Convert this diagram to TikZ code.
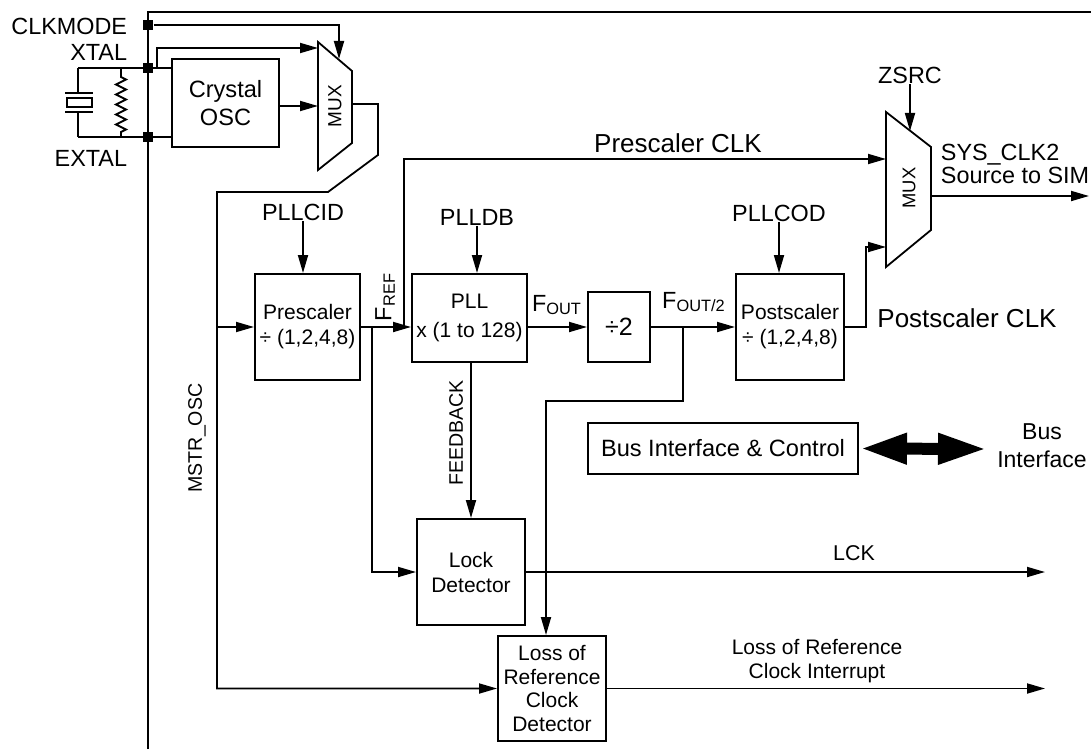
\documentclass[tikz,border=0pt]{standalone}
\usepackage{fontspec}
\setmainfont{Liberation Sans}
\usetikzlibrary{arrows.meta,positioning}
\tikzset{blk/.style={draw,line width=1pt,align=center,inner sep=1pt,font=\fontsize{10.5}{12.5}\selectfont}}
\tikzset{lbl/.style={inner sep=0pt,font=\fontsize{11.7}{13}\selectfont}}
\tikzset{sml/.style={inner sep=0pt,font=\fontsize{9.8}{12}\selectfont}}
\tikzset{big/.style={inner sep=0pt,font=\fontsize{13}{15}\selectfont}}
\tikzset{jdot/.style={rectangle,fill,minimum size=5pt,inner sep=0pt}}

\begin{document}
\begin{tikzpicture}[x=0.5pt,y=-0.5pt,line width=0.9pt,>={Triangle[length=9pt,width=5pt]}]
        \useasboundingbox (0,0) rectangle (1091,749);

        \node[blk,minimum width=53.5pt,minimum height=44pt,font=\fontsize{11.8}{14}\selectfont] (osc) at (225.5,103) {Crystal\\OSC};
        \node[blk,minimum width=52.5pt,minimum height=53pt] (pre) at (307.5,327) {Prescaler\\÷ (1,2,4,8)};
        \node[blk,minimum width=57.5pt,minimum height=44pt] (pll) at (469.5,318) {PLL\\[2pt]x (1 to 128)};
        \node[blk,minimum width=31pt,minimum height=35pt,font=\fontsize{12.5}{14}\selectfont] (div) at (619,327) {÷2};
        \node[blk,minimum width=54pt,minimum height=53pt] (post) at (790,327) {Postscaler\\÷ (1,2,4,8)};
        \node[blk,minimum width=54pt,minimum height=53pt] (lock) at (471,572) {Lock\\Detector};
        \node[blk,minimum width=54pt,minimum height=52.5pt,font=\fontsize{10.5}{11.8}\selectfont] (lor) at (552,688.5) {Loss of\\Reference\\Clock\\Detector};
        \node[blk,minimum width=135pt,minimum height=25.5pt,font=\fontsize{11.8}{14}\selectfont] (bus) at (723,448.5) {Bus Interface \& Control};

        \node[lbl,anchor=east] (clkmode) at (128,26) {CLKMODE};
        \node[lbl,anchor=east] (xtal) at (128,52) {XTAL};
        \node[lbl,anchor=east] (extal) at (128,158) {EXTAL};
        \node[lbl] (pllcid) at (303,212) {PLLCID};
        \node[lbl] (plldb) at (477,217) {PLLDB};
        \node[lbl] (pllcod) at (779,213) {PLLCOD};
        \node[lbl] (zsrc) at (910,75) {ZSRC};
        \node[lbl,anchor=west,align=left,font=\fontsize{11.7}{11.5}\selectfont] (sysclk) at (940,164) {SYS\_CLK2\\Source to SIM};
        \node[lbl,align=center,font=\fontsize{11.5}{14}\selectfont] (busif) at (1042,446) {Bus\\Interface};
        \node[big] (precl) at (678,143) {Prescaler CLK};
        \node[big] (postcl) at (967,318) {Postscaler CLK};
        \node[sml,rotate=90] (mstr) at (197,438) {MSTR\_OSC};
        \node[sml,rotate=90] (fdbk) at (456,433) {FEEDBACK};
        \node[lbl,rotate=90] (fref) at (385,297) {F\textsubscript{REF}};
        \node[lbl] (fout) at (557,305) {F\textsubscript{OUT}};
        \node[lbl] (fout2) at (694,302) {F\textsubscript{OUT/2}};
        \node[sml,font=\fontsize{10.7}{12}\selectfont] (lck) at (854,553) {LCK};
        \node[sml,align=center,font=\fontsize{10.5}{12}\selectfont] (lorint) at (817,661) {Loss of Reference\\Clock Interrupt};
        \node[rotate=90,inner sep=0pt,font=\fontsize{9.5}{11}\selectfont] (muxa) at (335,106) {MUX};
        \node[rotate=90,inner sep=0pt,font=\fontsize{9.2}{11}\selectfont] (muxb) at (909,188) {MUX};

        \node[jdot] (cdot) at (148,25) {};
        \node[jdot] (xdot) at (148,68) {};
        \node[jdot] (edot) at (148,137) {};

        \coordinate (xl) at (78,68);
        \coordinate (el) at (78,137);
        \coordinate (xtap) at (157,68);
        \coordinate (ma1) at (318,48);
        \coordinate (ma2) at (318,106);
        \coordinate (mat) at (339,59);
        \coordinate (mao) at (352,104);
        \coordinate (mst) at (217,327);
        \coordinate (tlk) at (372,327);
        \coordinate (tref) at (404,327);
        \coordinate (tdiv) at (683,327);
        \coordinate (mb1) at (886,159);
        \coordinate (mb2) at (886,247);
        \coordinate (mbt) at (910,131);
        \coordinate (mbo) at (931,196);
        \coordinate (sysend) at (1089,196);
        \coordinate (lckend) at (1045,572);
        \coordinate (intend) at (1045,688.5);
        \coordinate (busend) at (988,449);

        \draw (148,749) -- (148,12) -- (1091,12);
        \draw (318,42) -- (352,71) -- (352,143) -- (318,170) -- cycle;
        \draw (886,112) -- (931,147) -- (931,230) -- (886,267) -- cycle;

        \draw (xl) -- (osc.west |- xl);
        \draw (el) -- (osc.west |- el);
        \draw (xl) -- (78,93) (65,93) -- (93,93) (67,98) rectangle (92,107) (65,112) -- (93,112) (78,112) -- (el);
        \draw (121,68) -- (121,77) -- (126,79.5) -- (116,84.5) -- (126,89.5) -- (116,94.5) -- (126,99.5) -- (116,104.5)
              -- (126,109.5) -- (116,114.5) -- (126,119.5) -- (116,124.5) -- (126,129.5) -- (121,132) -- (121,137);

        \draw [->] (cdot) -| (mat);
        \draw [->] (xtap) |- (ma1);
        \draw [->] (osc.east |- ma2) -- (ma2);
        \draw [->] (mao) -| (378,155) -- (328,192) -| (217,688.5) -- (lor.west);
        \draw [->] (mst) -- (pre);
        \draw [->] (pllcid.south) -- (pllcid.south |- pre.north);
        \draw [->] (pre.east) -- (pre.east -| pll.west);
        \draw [->] (tref) |- (mb1);
        \draw [->] (tlk) |- (lock.west);
        \draw [->] (plldb.south) -- (plldb.south |- pll.north);
        \draw [->] (pll.east |- div.west) -- (div.west);
        \draw [->] (div.east) -- (post.west);
        \draw [->] (tdiv) -- (683,401) -| ([xshift=-3pt]lor.north);
        \draw [->] (pllcod.south) -- (pllcod.south |- post.north);
        \draw [->] (post.east) -- ++(21,0) |- (mb2);
        \draw [->] (zsrc.south) -- (mbt);
        \draw [->] (mbo) -- (sysend);
        \draw [->] (lock.north |- pll.south) -- (lock.north);
        \draw [->] (lock.east) -- (lckend);
        \draw [->] (lor.east) -- (intend);
        \draw [line width=6pt,{Triangle[length=24pt,width=14pt]}-{Triangle[length=25pt,width=14pt]}] (bus.east) -- (busend);
    \end{tikzpicture}
\end{document}
